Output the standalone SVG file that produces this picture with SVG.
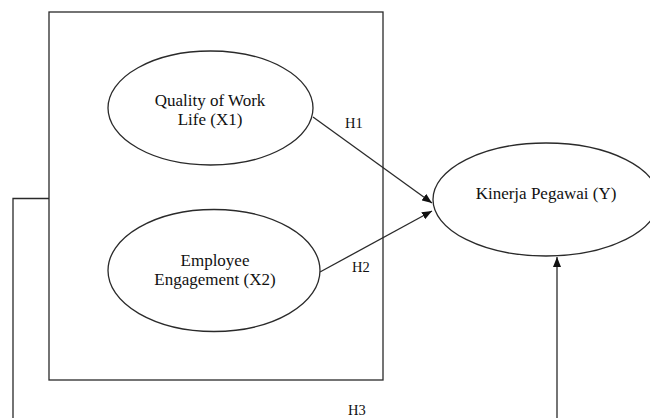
<svg xmlns="http://www.w3.org/2000/svg" width="650" height="418" viewBox="0 0 650 418">
  <style>
    .ln { fill: none; stroke: #2a2a2a; stroke-width: 1.3; }
    .node { fill: #ffffff; stroke: #2a2a2a; stroke-width: 1.3; }
    .lbl { font-family: "Liberation Serif", "Times New Roman", serif; font-size: 17px; fill: #111; text-anchor: middle; }
    .hyp { font-family: "Liberation Serif", "Times New Roman", serif; font-size: 14.5px; fill: #111; }
  </style>
  <defs>
    <marker id="arrow" viewBox="0 0 10 8" refX="10" refY="4" markerWidth="10" markerHeight="8" markerUnits="userSpaceOnUse" orient="auto">
      <path d="M0,0 L10,4 L0,8 Z" fill="#111"/>
    </marker>
  </defs>

  <rect width="650" height="418" fill="#ffffff"/>

  <!-- grouping frame around the independent variables -->
  <g id="frame">
    <rect class="ln" x="49" y="12" width="334" height="368"/>
  </g>

  <g id="connectors">
    <line class="ln" x1="313" y1="117" x2="432" y2="203" marker-end="url(#arrow)"/>
    <line class="ln" x1="320" y1="272" x2="432" y2="211" marker-end="url(#arrow)"/>
    <polyline class="ln" points="49,198.5 13,198.5 13,418"/>
    <line class="ln" x1="557" y1="418" x2="557" y2="257" marker-end="url(#arrow)"/>
  </g>

  <g id="x1">
    <ellipse class="node" cx="210.5" cy="108" rx="102.5" ry="57"/>
    <text class="lbl" x="210" y="106">Quality of Work</text>
    <text class="lbl" x="210" y="125">Life (X1)</text>
  </g>

  <g id="x2">
    <ellipse class="node" cx="214" cy="270.5" rx="106" ry="61"/>
    <text class="lbl" x="215" y="266">Employee</text>
    <text class="lbl" x="215" y="285">Engagement (X2)</text>
  </g>

  <g id="y">
    <ellipse class="node" cx="546" cy="199.5" rx="113" ry="56.5"/>
    <text class="lbl" x="546" y="199">Kinerja Pegawai (Y)</text>
  </g>

  <g id="labels">
    <text class="hyp" x="345" y="128">H1</text>
    <text class="hyp" x="352" y="272">H2</text>
    <text class="hyp" x="348" y="415">H3</text>
  </g>
</svg>
